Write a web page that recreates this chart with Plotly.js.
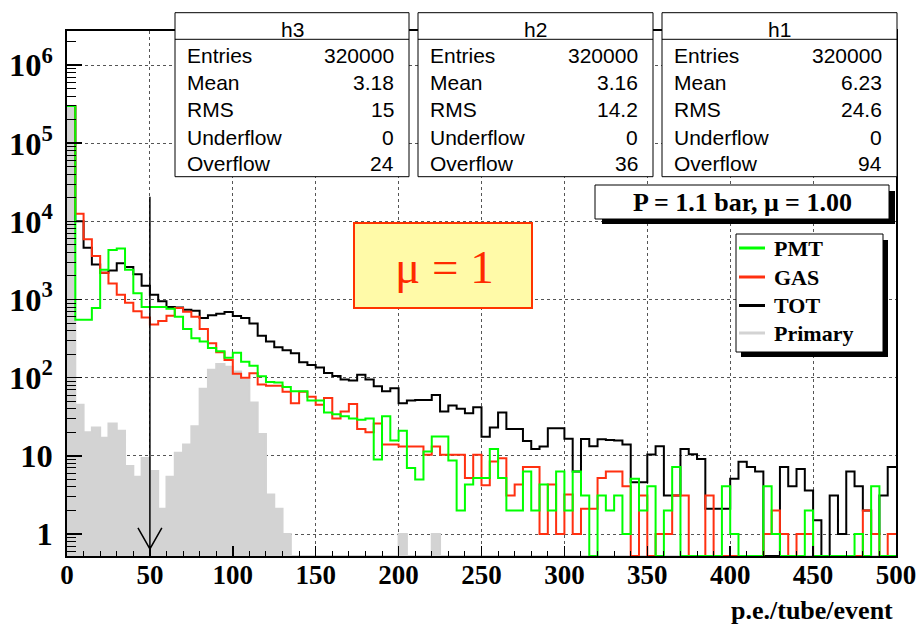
<!DOCTYPE html>
<html><head><meta charset="utf-8">
<script src="https://cdn.plot.ly/plotly-3.0.1.min.js"></script>
<style>html,body{margin:0;padding:0;background:#fff;} #chart{width:919px;height:627px;}</style>
</head><body><div id="chart"></div>
<script>
// ---- data (bins of width 5 from 0 to 500) ----
const binWidth = 5;
const xMin = 0;
const xMax = 500;

const pmt = [
  3e5, 550, 550, 780, 2400, 4300, 4500, 2400, 1200, 800,
  800, 800, 760, 600, 420, 320, 290, 240, 218, 180,
  208, 160, 142, 104, 88, 87, 76, 67, 67, 51,
  51, 36, 34, 32, 30, 29, 30, 9, 32, 15.7,
  21, 7, 5, 11.4, 17.7, 17.7, 8.7, 2, 4.3, 5.2,
  5.2, 12.2, 5.2, 2, 2, 6.3, 2, 4.3, 2, 6.3,
  2, 6.3, 3.1, 0, 3.1, 2, 3.1, 1, 5.1, 2,
  4.1, 0, 2, 7.2, 0, 0, 0, 0, 0, 4.1,
  1, 0, 0, 0, 4.1, 1, 0, 0, 0, 2,
  0, 0, 0, 0, 0, 1, 0, 4.1, 0, 0
];
const gas = [
  3e5, 12500, 5900, 3600, 2200, 1600, 1150, 910, 710, 590,
  480, 530, 620, 780, 700, 600, 420, 275, 212, 168,
  112, 100, 114, 82, 79, 79, 66, 47, 66, 57,
  45, 55, 30, 37, 46, 22, 20, 26, 14, 14,
  13.2, 13.2, 13.2, 10.3, 13.2, 10.3, 10.3, 10.3, 5.2, 10.3,
  4.2, 8.5, 9.3, 3.1, 4.3, 7.2, 7.2, 1, 4.3, 1,
  3.2, 1, 2.1, 2.1, 5.2, 6.3, 6.3, 4.1, 0, 3.1,
  0, 1, 1, 3.1, 3.1, 0, 0, 3.1, 0, 0,
  0, 0, 0, 0, 1, 2, 1, 0, 1, 1,
  0, 0, 0, 0, 0, 0, 2, 1, 0, 1
];
const tot = [
  3e5, 10000, 4600, 2800, 2200, 2350, 2900, 2600, 2100, 1500,
  1150, 950, 800, 790, 740, 720, 580, 630, 660, 690,
  615, 580, 495, 345, 290, 245, 224, 205, 158, 145,
  135, 115, 105, 95, 92, 109, 95, 78, 67, 73,
  47, 51, 52, 52, 60, 37, 44, 40, 35, 42,
  17.5, 23, 36, 22, 22, 15.5, 12.2, 13.2, 22.6, 22.6,
  16.5, 6.3, 16.4, 13.3, 16.3, 16, 15.7, 14, 4.6, 4.6,
  10.4, 13.3, 3.1, 3.1, 12.2, 10.5, 9.1, 2.1, 2.1, 2.1,
  5.1, 8.4, 7.2, 6.3, 0, 0, 7.2, 4.1, 6.8, 3.6,
  1.5, 0, 3.1, 1, 6.3, 4.1, 2, 1, 3.1, 7.2
];
const primary = [
  3e5, 45, 20, 23, 17, 26, 21, 7.4, 5.4, 9.4,
  6.4, 2.1, 5.4, 11, 14, 24, 72, 126, 150, 138,
  120, 94, 48, 19, 3.2, 2.1, 1, 0, 0, 0,
  0, 0, 0, 0, 0, 0, 0, 0, 0, 0,
  1, 0, 0, 0, 1, 0, 0, 0, 0, 0,
  0, 0, 0, 0, 0, 0, 0, 0, 0, 0,
  0, 0, 0, 0, 0, 0, 0, 0, 0, 0,
  0, 0, 0, 0, 0, 0, 0, 0, 0, 0,
  0, 0, 0, 0, 0, 0, 0, 0, 0, 0,
  0, 0, 0, 0, 0, 0, 0, 0, 0, 0
];

const seriesNames = ['PMT', 'GAS', 'TOT', 'Primary'];
const statLabels = ['Entries', 'Mean', 'RMS', 'Underflow', 'Overflow'];
const statTitles = ['h3', 'h2', 'h1'];
const statsH3 = ['320000', '3.18', '15', '0', '24'];
const statsH2 = ['320000', '3.16', '14.2', '0', '36'];
const statsH1 = ['320000', '6.23', '24.6', '0', '94'];
const boxText = 'P = 1.1 bar, \u03bc = 1.00';
const muText = '\u03bc = 1';
const arrowAt = 50;
const arrowFrom = 2.07e4;
const arrowTo = 0.645;
const xTitle = 'p.e./tube/event';

// ---- geometry helpers ----
const W = 919, H = 627;
const M = {l: 67, r: 23, t: 31, b: 71};
const PW = W - M.l - M.r, PH = H - M.t - M.b;
const px = v => (v - M.l) / PW;
const py = v => (H - M.b - v) / PH;
const yRange = [-0.281, 6.435];
const yFloor = Math.pow(10, yRange[0]);

const lefts = pmt.map((_, i) => xMin + i * binWidth);
const edgesX = lefts.concat([xMax]);
const centers = lefts.map(x => x + binWidth / 2);
function stepY(vals) {
  const v = vals.map(d => d > 0 ? d : yFloor);
  return v.concat([v[v.length - 1]]);
}

const colors = {PMT: '#00ff00', GAS: '#ff3010', TOT: '#000000', Primary: '#d3d3d3'};

const traces = [
  {type: 'bar', x: centers, y: primary.map(v => v > 0 ? v : null), width: binWidth,
   marker: {color: colors.Primary, line: {width: 0}}, showlegend: false, hoverinfo: 'skip'},
  {type: 'scatter', mode: 'lines', x: edgesX, y: stepY(primary), name: seriesNames[3],
   line: {shape: 'hv', color: colors.Primary, width: 2}},
  {type: 'scatter', mode: 'lines', x: edgesX, y: stepY(tot), name: seriesNames[2],
   line: {shape: 'hv', color: colors.TOT, width: 2}},
  {type: 'scatter', mode: 'lines', x: edgesX, y: stepY(gas), name: seriesNames[1],
   line: {shape: 'hv', color: colors.GAS, width: 2}},
  {type: 'scatter', mode: 'lines', x: edgesX, y: stepY(pmt), name: seriesNames[0],
   line: {shape: 'hv', color: colors.PMT, width: 2}}
];

const shapes = [];
const annotations = [];
const serifB = {family: 'Liberation Serif', size: 26, weight: 'bold', color: '#000'};
const legendFont = {family: 'Liberation Serif', size: 22, weight: 'bold', color: '#000'};
const sans = {family: 'Liberation Sans', size: 21, color: '#000'};

function rect(x0, y0, x1, y1, fill, lineColor, lw) {
  shapes.push({type: 'rect', xref: 'paper', yref: 'paper', layer: 'above',
    x0: px(x0), x1: px(x1), y0: py(y1), y1: py(y0),
    fillcolor: fill, line: {color: lineColor, width: lw}});
}
function hline(x0, x1, y, color, lw) {
  shapes.push({type: 'line', xref: 'paper', yref: 'paper', layer: 'above',
    x0: px(x0), x1: px(x1), y0: py(y), y1: py(y), line: {color: color, width: lw}});
}
function text(x, y, t, font, xanchor) {
  annotations.push({xref: 'paper', yref: 'paper', x: px(x), y: py(y), text: t, showarrow: false,
    xanchor: xanchor || 'center', yanchor: 'middle', font: font});
}

// stat boxes
const statBoxes = [
  {L: 175, R: 409, title: statTitles[0], vals: statsH3},
  {L: 418, R: 653, title: statTitles[1], vals: statsH2},
  {L: 662, R: 897, title: statTitles[2], vals: statsH1}
];
const rowY = [55, 82.5, 109.5, 137, 163.5];
statBoxes.forEach(b => {
  rect(b.L, 12.7, b.R, 176.7, '#ffffff', '#000', 1);
  hline(b.L, b.R, 39.3, '#000', 1);
  text((b.L + b.R) / 2, 29.5, b.title, sans, 'center');
  statLabels.forEach((lab, i) => {
    text(b.L + 10, rowY[i], lab, sans, 'left');
    text(b.R - 13, rowY[i], b.vals[i], sans, 'right');
  });
});

// pressure box with shadow
rect(602, 191, 895, 224, '#000', '#000', 0);
rect(595, 185, 889, 219, '#ffffff', '#000', 1);
text(742, 202.5, boxText, serifB, 'center');

// legend (drawn box with shadow)
rect(741, 240, 888, 357, '#000', '#000', 0);
rect(736, 234, 883, 352, '#ffffff', '#000', 1);
const legendRowsY = [248, 277, 305.5, 333];
seriesNames.forEach((n, i) => {
  hline(739, 765, legendRowsY[i], colors[n], 3);
  text(772, legendRowsY[i], n, legendFont, 'left');
});

// mu box
rect(354, 223, 532, 308, '#fffaa8', '#ff3300', 2);
text(444, 267, muText, {family: 'Liberation Serif', size: 47, color: '#ff2a00'}, 'center');

// arrow at x = 50 (shapes on a log axis take data values)
shapes.push({type: 'line', xref: 'x', yref: 'y', layer: 'above', x0: arrowAt, x1: arrowAt, y0: arrowFrom, y1: arrowTo,
  line: {color: '#000', width: 1.5}});
const headUp = arrowTo * Math.pow(10, 0.27);
shapes.push({type: 'path', xref: 'x', yref: 'y', layer: 'above',
  path: 'M ' + (arrowAt - 7.2) + ',' + headUp + ' L ' + arrowAt + ',' + arrowTo + ' L ' + (arrowAt + 7.2) + ',' + headUp,
  line: {color: '#000', width: 1.5}});

// x title
text(895, 610, xTitle, serifB, 'right');

const xTickFont = {family: 'Liberation Serif', size: 27, weight: 'bold', color: '#000'};
const yTickFont = {family: 'Liberation Serif', size: 26, weight: 'bold', color: '#000'};

const layout = {
  width: W, height: H,
  margin: {l: M.l, r: M.r, t: M.t, b: M.b, pad: 0},
  paper_bgcolor: '#fff', plot_bgcolor: '#fff',
  bargap: 0,
  showlegend: false,
  xaxis: {
    range: [xMin, xMax], dtick: 50, tick0: 0, ticks: 'inside', ticklen: 10, tickwidth: 1.5, tickcolor: '#000',
    showline: true, linecolor: '#000', linewidth: 2, mirror: true,
    showgrid: true, gridcolor: '#555', griddash: 'dot', gridwidth: 1, zeroline: false,
    tickfont: xTickFont, ticklabelstandoff: -6,
    minor: {dtick: 10, ticks: 'inside', ticklen: 5, tickcolor: '#000', tickwidth: 1, showgrid: false},
    fixedrange: true
  },
  yaxis: {
    type: 'log', range: yRange, dtick: 1, tick0: 0, exponentformat: 'power',
    ticks: 'inside', ticklen: 15, tickwidth: 1.5, tickcolor: '#000',
    showline: true, linecolor: '#000', linewidth: 2, mirror: true,
    showgrid: true, gridcolor: '#555', griddash: 'dot', gridwidth: 1, zeroline: false,
    tickfont: yTickFont, ticklabelstandoff: 7,
    minor: {dtick: 'D1', ticks: 'inside', ticklen: 9, tickcolor: '#000', tickwidth: 1, showgrid: false},
    fixedrange: true
  },
  shapes: shapes,
  annotations: annotations
};

Plotly.newPlot('chart', traces, layout, {displayModeBar: false, staticPlot: true});
</script>
</body></html>
